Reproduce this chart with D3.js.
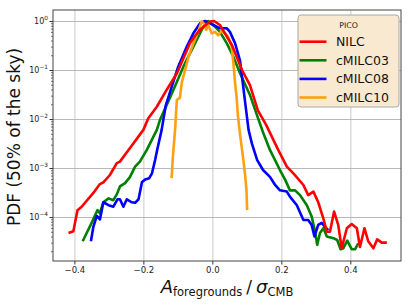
<meta charset="utf-8">
<title>PDF of foreground residuals</title>
<script src="https://d3js.org/d3.v7.min.js"></script>
<style>
  body { margin: 0; background: #fff; }
  text { font-family: "DejaVu Sans", sans-serif; }
</style>
<body>
<svg id="chart" width="411" height="305"></svg>
<script>

  // curves: [A_fg / sigma_CMB, PDF]
  const nilc = [
    [-0.417, 4.7e-5], [-0.403, 5.1e-5], [-0.391, 1.38e-4], [-0.379, 1.62e-4],
    [-0.345, 3.1e-4], [-0.326, 4.7e-4], [-0.316, 5.1e-4], [-0.297, 7.2e-4],
    [-0.277, 1.26e-3], [-0.268, 1.35e-3], [-0.243, 2.34e-3], [-0.200, 6.0e-3],
    [-0.186, 1.02e-2], [-0.161, 1.78e-2], [-0.130, 4.2e-2], [-0.103, 8.5e-2],
    [-0.065, 0.35], [-0.050, 0.50], [-0.036, 0.66], [-0.007, 0.98],
    [0.005, 1.0], [0.022, 0.83], [0.057, 0.32], [0.086, 0.10],
    [0.109, 0.049], [0.132, 0.015], [0.156, 7.6e-3], [0.191, 2.34e-3],
    [0.216, 1.07e-3], [0.235, 7.8e-4], [0.264, 4.5e-4], [0.278, 2.8e-4],
    [0.293, 3.3e-4], [0.307, 2.0e-4], [0.322, 9.3e-5], [0.332, 5.0e-5],
    [0.341, 5.0e-5], [0.353, 1.29e-4], [0.365, 6.9e-5], [0.375, 2.3e-5],
    [0.390, 5.9e-5], [0.404, 7.2e-5], [0.419, 5.9e-5], [0.428, 2.45e-5],
    [0.441, 5.9e-5], [0.452, 3.2e-5], [0.467, 2.3e-5], [0.478, 3.5e-5],
    [0.491, 3.0e-5], [0.506, 3.0e-5]
  ]

  const cmilc03 = [
    [-0.376, 3.2e-5], [-0.350, 7.6e-5], [-0.333, 1.38e-4], [-0.326, 1.2e-4],
    [-0.316, 2.0e-4], [-0.301, 2.4e-4], [-0.287, 2.2e-4], [-0.276, 3.0e-4],
    [-0.268, 4.2e-4], [-0.253, 4.9e-4], [-0.239, 6.5e-4], [-0.224, 1.07e-3],
    [-0.210, 1.35e-3], [-0.190, 2.34e-3], [-0.161, 6.0e-3], [-0.152, 9.5e-3],
    [-0.113, 0.039], [-0.084, 0.117], [-0.055, 0.30], [-0.036, 0.56],
    [-0.021, 0.89], [-0.012, 1.0], [0.003, 0.83], [0.022, 0.60],
    [0.042, 0.35], [0.061, 0.186], [0.080, 0.087], [0.109, 0.031],
    [0.133, 0.0102], [0.148, 5.1e-3], [0.167, 2.34e-3], [0.196, 9.1e-4],
    [0.211, 5.8e-4], [0.225, 3.5e-4], [0.240, 3.5e-4], [0.254, 2.8e-4],
    [0.274, 1.74e-4], [0.288, 1.02e-4], [0.298, 5.0e-5], [0.304, 2.7e-5],
    [0.312, 4.7e-5], [0.322, 5.9e-5], [0.332, 4.0e-5], [0.351, 3.7e-5],
    [0.362, 3.4e-5], [0.372, 2.2e-5], [0.380, 2.3e-5], [0.391, 3.3e-5],
    [0.404, 2.2e-5], [0.414, 2.2e-5], [0.423, 2.9e-5]
  ]

  const cmilc08 = [
    [-0.352, 3.2e-5], [-0.345, 6.3e-5], [-0.335, 1.05e-4], [-0.326, 8.9e-5],
    [-0.316, 2.0e-4], [-0.301, 1.74e-4], [-0.287, 1.62e-4], [-0.275, 2.3e-4],
    [-0.268, 2.3e-4], [-0.258, 1.62e-4], [-0.248, 2.3e-4], [-0.234, 2.0e-4],
    [-0.224, 1.95e-4], [-0.214, 2.3e-4], [-0.204, 5.2e-4], [-0.195, 5.8e-4],
    [-0.183, 6.2e-4], [-0.175, 7.8e-4], [-0.166, 1.45e-3], [-0.160, 2.34e-3],
    [-0.147, 6.0e-3], [-0.135, 0.019], [-0.123, 0.035], [-0.099, 0.117],
    [-0.074, 0.30], [-0.055, 0.56], [-0.036, 0.89], [-0.021, 1.0],
    [0.003, 0.83], [0.022, 0.71], [0.042, 0.71], [0.051, 0.60],
    [0.066, 0.35], [0.080, 0.158], [0.089, 0.049], [0.098, 0.015],
    [0.105, 6.0e-3], [0.115, 3.1e-3], [0.130, 1.45e-3], [0.147, 9.1e-4],
    [0.167, 6.6e-4], [0.182, 4.5e-4], [0.196, 3.5e-4], [0.216, 3.3e-4],
    [0.225, 2.6e-4], [0.245, 1.74e-4], [0.264, 8.7e-5], [0.278, 8.7e-5],
    [0.288, 6.9e-5], [0.296, 4.0e-5], [0.307, 6.9e-5], [0.317, 7.6e-5],
    [0.327, 6.3e-5], [0.336, 5.4e-5]
  ]

  const cmilc10 = [
    [-0.118, 6.2e-4], [-0.114, 1.86e-3], [-0.108, 6.0e-3], [-0.103, 0.0245],
    [-0.094, 0.027], [-0.089, 0.054], [-0.079, 0.10], [-0.069, 0.186],
    [-0.055, 0.35], [-0.045, 0.51], [-0.041, 0.60], [-0.031, 0.98],
    [-0.024, 0.87], [-0.018, 0.66], [-0.012, 0.83], [-0.002, 0.56],
    [0.008, 0.60], [0.017, 0.51], [0.027, 0.63], [0.037, 0.56],
    [0.046, 0.48], [0.056, 0.30], [0.061, 0.138], [0.066, 0.054],
    [0.071, 0.0245], [0.074, 0.012], [0.080, 5.1e-3], [0.090, 1.45e-3],
    [0.095, 7.2e-4], [0.099, 3.5e-4], [0.101, 1.38e-4]
  ]

  const seriesNames = ['NILC', 'cMILC03', 'cMILC08', 'cMILC10']
  const seriesData = [nilc, cmilc03, cmilc08, cmilc10]
  const seriesColors = ['#ff0000', '#008000', '#0000ff', '#ffa010']
  const drawOrder = [1, 2, 3, 0]   // red sits on top

  const xTicks = [-0.4, -0.2, 0.0, 0.2, 0.4]
  const yTicks = [1e-4, 1e-3, 1e-2, 1e-1, 1e0]
  const yTickExp = ['\u22124', '\u22123', '\u22122', '\u22121', '0']
  const legendTitle = 'PICO'

  const pL = 53, pR = 401, pT = 10, pB = 261

  const svg = d3.select('#chart')

  const x = d3.scaleLinear().domain([-0.462, 0.547]).range([pL, pR])
  const y = d3.scaleLog().domain([1.265e-5, 1.677]).range([pB, pT])

  // grid
  svg.append('g')
    .attr('transform', `translate(0,${pB})`)
    .call(d3.axisBottom(x).tickValues(xTicks).tickSize(-(pB - pT)).tickFormat(''))
    .call(g => g.select('.domain').remove())
    .call(g => g.selectAll('line').attr('stroke', '#d6d6d6').attr('stroke-width', 1.3))

  svg.append('g')
    .attr('transform', `translate(${pL},0)`)
    .call(d3.axisLeft(y).tickValues(yTicks).tickSize(-(pR - pL)).tickFormat(''))
    .call(g => g.select('.domain').remove())
    .call(g => g.selectAll('line').attr('stroke', '#b8b8b8').attr('stroke-width', 1))

  // curves
  const line = d3.line()
    .x(d => x(d[0]))
    .y(d => y(d[1]))

  const plot = svg.append('g')
  drawOrder.forEach(i => {
    plot.append('path')
      .datum(seriesData[i])
      .attr('fill', 'none')
      .attr('stroke', seriesColors[i])
      .attr('stroke-width', 2.6)
      .attr('stroke-linejoin', 'round')
      .attr('d', line)
  })

  // axes
  const xAxis = svg.append('g')
    .attr('transform', `translate(0,${pB})`)
    .call(d3.axisBottom(x).tickValues(xTicks).tickSize(3.5).tickPadding(2.5)
      .tickFormat(d => d3.format('.1f')(d).replace('-', '\u2212')))
  xAxis.select('.domain').remove()
  xAxis.selectAll('line').attr('stroke', '#333')
  xAxis.selectAll('text').attr('font-size', 8.5).attr('fill', '#222')
    .attr('font-family', 'DejaVu Sans')

  const minor = []
  for (let e = -5; e <= 0; e++)
    for (let m = 2; m <= 9; m++) {
      const v = m * Math.pow(10, e)
      if (v >= y.domain()[0] && v <= y.domain()[1]) minor.push(v)
    }

  const yMinor = svg.append('g')
    .attr('transform', `translate(${pL},0)`)
    .call(d3.axisLeft(y).tickValues(minor).tickSize(2).tickFormat(''))
  yMinor.select('.domain').remove()
  yMinor.selectAll('line').attr('stroke', '#333').attr('stroke-width', 0.7)

  const yAxis = svg.append('g')
    .attr('transform', `translate(${pL},0)`)
    .call(d3.axisLeft(y).tickValues(yTicks).tickSize(3.5).tickFormat(''))
  yAxis.select('.domain').remove()
  yAxis.selectAll('line').attr('stroke', '#333')

  yAxis.selectAll('.tick').each(function (d, i) {
    const t = d3.select(this).append('text')
      .attr('x', -5)
      .attr('dy', '0.32em')
      .attr('text-anchor', 'end')
      .attr('fill', '#222')
      .attr('font-size', 8)
    t.append('tspan').text('10')
    t.append('tspan').attr('dy', -3.6).attr('font-size', 5.8).text(yTickExp[i])
  })

  // frame
  svg.append('rect')
    .attr('x', pL).attr('y', pT)
    .attr('width', pR - pL).attr('height', pB - pT)
    .attr('fill', 'none')
    .attr('stroke', '#444')
    .attr('stroke-width', 1)

  // axis labels
  svg.append('text')
    .attr('transform', `translate(20,137) rotate(-90)`)
    .attr('text-anchor', 'middle')
    .attr('font-size', 17)
    .attr('fill', '#111')
    .text('PDF (50% of the sky)')

  const xl = svg.append('text')
    .attr('x', 227).attr('y', 293)
    .attr('text-anchor', 'middle')
    .attr('fill', '#111')
  xl.append('tspan').attr('font-size', 18).attr('font-style', 'italic').text('A')
  xl.append('tspan').attr('font-size', 11.5).attr('dy', 3).text('foregrounds')
  xl.append('tspan').attr('font-size', 17).attr('dy', -3).attr('dx', 4).text('/')
  xl.append('tspan').attr('font-size', 18).attr('font-style', 'italic').attr('dx', 4).text('\u03c3')
  xl.append('tspan').attr('font-size', 11.5).attr('dy', 3).text('CMB')

  // legend
  const lg = svg.append('g').attr('transform', 'translate(298,15)')
  lg.append('rect')
    .attr('width', 101).attr('height', 92)
    .attr('rx', 3)
    .attr('fill', '#fae9d1')
    .attr('stroke', '#a8a8a8')
    .attr('stroke-width', 1)

  lg.append('text')
    .attr('x', 50.5).attr('y', 12.5)
    .attr('text-anchor', 'middle')
    .attr('font-size', 7.8)
    .attr('fill', '#222')
    .text(legendTitle)

  seriesNames.forEach((name, i) => {
    const ly = 26.7 + i * 18.6
    lg.append('line')
      .attr('x1', 1.5).attr('x2', 28.5)
      .attr('y1', ly).attr('y2', ly)
      .attr('stroke', seriesColors[i])
      .attr('stroke-width', 2.6)
    lg.append('text')
      .attr('x', 38).attr('y', ly)
      .attr('dy', '0.36em')
      .attr('font-size', 12.5)
      .attr('fill', '#111')
      .text(name)
  })

</script>
</body>
